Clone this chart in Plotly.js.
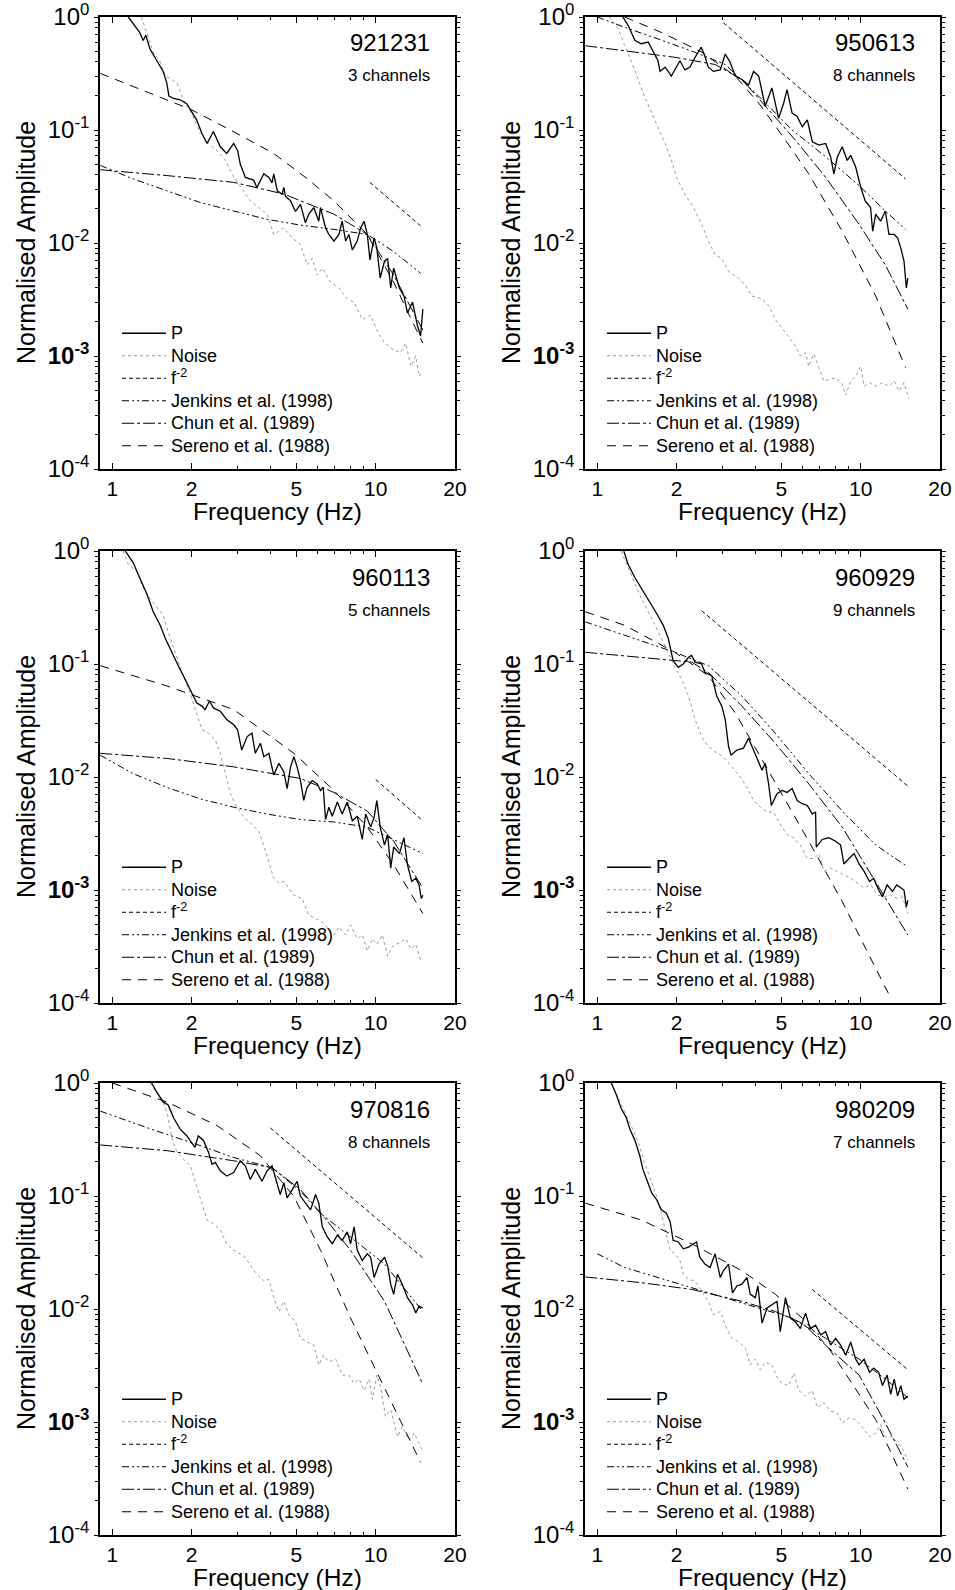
<!DOCTYPE html>
<html><head><meta charset="utf-8">
<script src="https://cdn.plot.ly/plotly-3.0.1.min.js"></script>
<style>body{margin:0;background:#fff}#chart{width:955px;height:1590px}</style>
</head><body><div id="chart"></div>
<script>
// ---------- categories / labels ----------
const events = ['921231','950613','960113','960929','970816','980209'];
const channelText = ['3 channels','8 channels','5 channels','9 channels','8 channels','7 channels'];
const seriesNames = ['P','Noise','f<sup>-2</sup>','Jenkins et al. (1998)','Chun et al. (1989)','Sereno et al. (1988)'];
const xTickVals = [1,2,5,10,20];
const xTickText = ['1','2','5','10','20'];
const xMinorVals = [3,4,6,7,8,9];
const yTickVals = [1,0.1,0.01,0.001,0.0001];
const yTickText = ['10<sup>0</sup>','10<sup>-1</sup>','10<sup>-2</sup>','<b>10<sup>-3</sup></b>','10<sup>-4</sup>'];
const yMinorVals = [2e-4,3e-4,4e-4,5e-4,6e-4,7e-4,8e-4,9e-4,2e-3,3e-3,4e-3,5e-3,6e-3,7e-3,8e-3,9e-3,
  0.02,0.03,0.04,0.05,0.06,0.07,0.08,0.09,0.2,0.3,0.4,0.5,0.6,0.7,0.8,0.9];

// ---------- panel 1 : 921231 ----------
const P1_f = [1.15,1.27,1.31,1.34,1.39,1.47,1.56,1.61,1.64,1.71,1.81,1.92,2.0,2.09,2.19,2.29,2.42,2.57,2.72,2.89,2.99,3.06,3.20,3.44,3.54,3.76,3.93,4.04,4.10,4.23,4.41,4.48,4.54,4.75,4.96,5.18,5.41,5.57,5.82,6.08,6.17,6.45,6.64,6.94,7.25,7.46,7.69,7.91,8.15,8.51,8.77,9.03,9.29,9.51,9.86,10.1,10.4,10.8,11.1,11.4,11.7,12.3,12.8,13.2,13.8,14.4,14.8,15.1];
const P1_a = [1.0,0.73,0.62,0.69,0.52,0.42,0.33,0.26,0.20,0.19,0.185,0.17,0.146,0.123,0.093,0.076,0.097,0.071,0.062,0.076,0.066,0.050,0.038,0.036,0.031,0.041,0.038,0.034,0.041,0.029,0.027,0.031,0.026,0.0236,0.019,0.022,0.0151,0.018,0.0206,0.0156,0.0206,0.0136,0.0119,0.0104,0.0119,0.0156,0.0104,0.0119,0.0087,0.0104,0.0136,0.0156,0.0119,0.0071,0.0111,0.009,0.0049,0.0069,0.0073,0.0040,0.006,0.004,0.0034,0.0024,0.0030,0.00186,0.0015,0.0026];
const N1_f = [1.29,1.35,1.43,1.52,1.59,1.68,1.76,1.86,2.0,2.16,2.32,2.49,2.69,2.84,3.06,3.34,3.59,3.87,4.10,4.48,4.82,5.18,5.49,5.74,6.0,6.27,6.74,7.25,7.80,8.28,8.89,9.57,10.1,10.8,11.6,12.4,13.0,13.6,14.2,14.6,15.1];
const N1_a = [1.0,0.73,0.49,0.40,0.30,0.28,0.26,0.186,0.141,0.093,0.076,0.066,0.054,0.041,0.032,0.0236,0.0206,0.018,0.0119,0.0136,0.0111,0.0097,0.0064,0.0073,0.0052,0.006,0.0045,0.004,0.0032,0.003,0.0021,0.0023,0.0017,0.0013,0.00115,0.00107,0.0013,0.00081,0.001,0.00066,0.00073];
const F1_f = [9.5,14.8];
const F1_a = [0.0344,0.0142];
const J1_f = [0.9,1.2,1.61,2.16,2.89,3.87,5.18,6.94,9.29,11.7,14.8];
const J1_a = [0.0486,0.0369,0.029,0.0228,0.0192,0.0162,0.0144,0.0132,0.0119,0.0084,0.0054];
const C1_f = [0.9,1.61,2.89,4.48,6.94,9.29,11.7,15.1];
const C1_a = [0.0445,0.0395,0.0344,0.0271,0.018,0.0119,0.0052,0.0017];
const S1_f = [0.9,1.4,2.0,2.9,4.1,5.5,6.94,9.29,10.1,11.7,13.4,15.1];
const S1_a = [0.317,0.21,0.151,0.096,0.062,0.037,0.0236,0.0119,0.0084,0.0045,0.0023,0.0013];

// ---------- panel 2 : 950613 ----------
const P2_f = [1.25,1.31,1.39,1.47,1.56,1.63,1.70,1.73,1.81,1.91,2.0,2.06,2.15,2.25,2.35,2.48,2.56,2.64,2.76,2.93,3.06,3.19,3.34,3.54,3.75,3.92,4.10,4.34,4.60,4.88,5.10,5.25,5.49,5.74,6.0,6.27,6.55,6.94,7.36,7.69,7.91,8.15,8.51,8.89,9.16,9.57,10.0,10.4,10.9,11.1,11.4,11.9,12.4,12.8,13.4,13.8,14.2,14.6,14.9,15.1];
const P2_a = [1.0,0.84,0.62,0.58,0.60,0.49,0.41,0.33,0.36,0.30,0.36,0.41,0.34,0.36,0.44,0.54,0.45,0.36,0.33,0.34,0.47,0.40,0.30,0.28,0.25,0.33,0.30,0.162,0.236,0.127,0.173,0.228,0.141,0.132,0.107,0.123,0.0787,0.0734,0.076,0.0577,0.0409,0.0577,0.071,0.0538,0.0597,0.047,0.0311,0.0236,0.0206,0.0127,0.018,0.0156,0.0192,0.0119,0.0119,0.0111,0.009,0.0069,0.004,0.0049];
const N2_f = [1.11,1.20,1.27,1.35,1.43,1.51,1.61,1.70,1.81,1.91,2.0,2.15,2.32,2.49,2.64,2.80,2.97,3.15,3.44,3.65,3.86,4.22,4.47,4.74,5.18,5.65,5.90,6.17,6.35,6.64,6.94,7.25,7.57,8.03,8.51,8.77,9.16,9.57,10.0,10.3,10.8,11.4,12.1,12.8,13.4,14.0,14.6,15.2];
const N2_a = [1.0,0.79,0.56,0.40,0.28,0.199,0.141,0.107,0.076,0.054,0.038,0.027,0.0206,0.0146,0.0104,0.0079,0.0073,0.0056,0.0049,0.0042,0.0034,0.0032,0.0028,0.0021,0.0016,0.00123,0.001,0.00107,0.00081,0.00104,0.00079,0.0006,0.00062,0.00064,0.00056,0.00045,0.0006,0.00066,0.00081,0.00054,0.00058,0.00054,0.00058,0.00054,0.0006,0.00049,0.00058,0.00042];
const F2_f = [3.01,14.8];
const F2_a = [0.89,0.0369];
const J2_f = [1.0,1.27,1.70,2.28,3.06,4.10,5.49,7.36,9.86,12.4,14.8];
const J2_a = [1.0,0.81,0.64,0.50,0.38,0.199,0.1,0.058,0.0322,0.0192,0.0132];
const C2_f = [0.9,1.27,1.97,2.80,3.54,4.47,5.65,7.36,9.86,12.4,15.1];
const C2_a = [0.557,0.50,0.44,0.38,0.28,0.151,0.0813,0.0382,0.0146,0.0064,0.0026];
const S2_f = [1.27,1.75,2.49,3.34,4.10,5.18,6.35,8.51,11.4,14.8];
const S2_a = [1.0,0.73,0.49,0.30,0.173,0.0813,0.0409,0.0127,0.0034,0.00079];

// ---------- panel 3 : 960113 ----------
const P3_f = [1.12,1.20,1.27,1.35,1.43,1.52,1.59,1.68,1.78,1.89,2.0,2.09,2.19,2.25,2.34,2.42,2.57,2.72,2.89,2.99,3.10,3.25,3.39,3.49,3.65,3.76,3.93,4.10,4.29,4.48,4.61,4.75,4.89,5.03,5.18,5.33,5.49,5.74,6.0,6.17,6.32,6.45,6.64,6.84,7.15,7.46,7.80,8.15,8.51,8.89,9.16,9.57,9.86,10.1,10.4,10.8,11.1,11.4,11.7,12.3,12.8,13.2,13.7,14.2,14.6,14.9,15.1];
const P3_a = [1.0,0.79,0.58,0.42,0.29,0.22,0.168,0.127,0.0966,0.0734,0.0557,0.0454,0.0424,0.0395,0.047,0.0409,0.0382,0.0322,0.029,0.0262,0.0173,0.0228,0.0244,0.0162,0.0199,0.0151,0.0162,0.0104,0.0132,0.0111,0.0079,0.0123,0.0151,0.0123,0.0093,0.0062,0.0081,0.0093,0.0087,0.0076,0.0081,0.0042,0.0054,0.0045,0.006,0.0047,0.006,0.0041,0.0045,0.0028,0.0047,0.0036,0.0044,0.0062,0.0036,0.0025,0.0031,0.00156,0.0024,0.0021,0.0029,0.00167,0.00119,0.00127,0.00111,0.00084,0.0009];
const N3_f = [1.10,1.15,1.24,1.31,1.39,1.47,1.56,1.63,1.73,1.84,1.95,2.06,2.19,2.32,2.46,2.57,2.69,2.81,2.97,3.16,3.39,3.60,3.76,3.93,4.10,4.29,4.48,4.68,4.89,5.26,5.57,5.91,6.27,6.64,6.94,7.25,7.69,8.03,8.51,8.89,9.29,9.71,10.1,10.6,11.1,11.6,12.3,13.0,13.6,14.2,14.8,15.1];
const N3_a = [1.0,0.76,0.66,0.47,0.38,0.32,0.27,0.192,0.127,0.0842,0.0597,0.0395,0.0262,0.0244,0.0213,0.0162,0.0107,0.0071,0.0054,0.0044,0.0038,0.0033,0.0025,0.0018,0.00127,0.00115,0.00119,0.00104,0.0009,0.00084,0.0006,0.00056,0.00052,0.00045,0.0004,0.00047,0.0004,0.00049,0.00037,0.0004,0.00029,0.00037,0.00033,0.0004,0.00026,0.00032,0.00034,0.00037,0.0003,0.00033,0.00024,0.00024];
const F3_f = [10.0,15.1];
const F3_a = [0.0095,0.0041];
const J3_f = [0.9,1.20,1.61,2.16,2.89,3.87,5.18,6.94,9.29,11.7,15.1];
const J3_a = [0.0156,0.0107,0.0081,0.0064,0.0054,0.0047,0.0042,0.004,0.0036,0.0028,0.0021];
const C3_f = [0.9,1.61,2.89,5.18,6.94,9.29,11.7,15.1];
const C3_a = [0.0162,0.0146,0.0123,0.0097,0.0073,0.005,0.0027,0.00104];
const S3_f = [0.9,1.61,2.89,4.89,6.94,9.29,11.7,15.1];
const S3_a = [0.0966,0.064,0.0395,0.0162,0.0076,0.0036,0.00167,0.00062];

// ---------- panel 4 : 960929 ----------
const P4_f = [1.26,1.31,1.39,1.47,1.56,1.68,1.78,1.86,1.94,2.03,2.12,2.22,2.28,2.35,2.49,2.56,2.72,2.84,2.97,3.06,3.15,3.22,3.39,3.59,3.75,3.92,4.10,4.22,4.34,4.47,4.58,4.67,4.81,5.03,5.25,5.49,5.74,6.0,6.27,6.55,6.74,6.78,7.14,7.57,8.03,8.39,8.63,9.03,9.44,9.86,10.3,10.8,11.2,11.7,12.1,12.6,13.2,13.7,14.2,14.6,14.9,15.1];
const P4_a = [1.0,0.76,0.58,0.47,0.38,0.28,0.22,0.168,0.107,0.0933,0.1,0.115,0.119,0.104,0.1,0.0842,0.0787,0.052,0.0424,0.0322,0.0186,0.0156,0.0173,0.018,0.022,0.0173,0.0132,0.0115,0.0132,0.0087,0.0056,0.0062,0.0071,0.0076,0.0073,0.0079,0.0062,0.0058,0.0056,0.0047,0.0049,0.0024,0.0028,0.0029,0.0027,0.0025,0.0017,0.0019,0.0021,0.0017,0.00146,0.00119,0.00127,0.001,0.00087,0.00111,0.00097,0.00111,0.00104,0.001,0.00071,0.00081];
const N4_f = [1.23,1.31,1.39,1.47,1.56,1.66,1.75,1.86,1.97,2.09,2.22,2.35,2.49,2.64,2.80,3.01,3.24,3.49,3.70,3.92,4.16,4.41,4.67,4.95,5.25,5.57,5.90,6.27,6.64,6.94,7.25,7.69,8.15,8.63,9.16,9.71,10.3,10.9,11.6,12.3,13.0,13.8,14.4,15.1];
const N4_a = [1.0,0.71,0.50,0.38,0.29,0.22,0.168,0.127,0.0933,0.0734,0.052,0.0322,0.0228,0.0186,0.0167,0.0151,0.0123,0.01,0.0081,0.0062,0.0054,0.0049,0.0049,0.0038,0.0031,0.0029,0.0025,0.0019,0.0019,0.0021,0.00146,0.00156,0.00146,0.00136,0.00127,0.00115,0.00104,0.00111,0.0009,0.00087,0.0009,0.00084,0.00087,0.00062];
const F4_f = [2.49,15.1];
const F4_a = [0.296,0.0083];
const J4_f = [0.9,1.27,1.97,2.64,3.54,4.74,6.35,8.51,11.4,15.1];
const J4_a = [0.236,0.179,0.127,0.0966,0.052,0.0244,0.0107,0.005,0.0025,0.0016];
const C4_f = [0.9,1.47,2.28,2.64,3.54,4.74,6.35,8.51,11.4,15.1];
const C4_a = [0.127,0.115,0.104,0.0842,0.0424,0.0199,0.0087,0.0036,0.00119,0.0004];
const S4_f = [0.9,1.27,1.97,2.64,3.34,4.10,5.18,6.35,8.51,10.8,12.8];
const S4_a = [0.29,0.22,0.127,0.0787,0.0369,0.0162,0.0062,0.0027,0.00079,0.00026,0.000119];

// ---------- panel 5 : 970816 ----------
const P5_f = [1.41,1.47,1.56,1.63,1.71,1.81,1.92,2.06,2.12,2.22,2.32,2.39,2.46,2.57,2.72,2.89,3.06,3.20,3.34,3.49,3.70,3.87,4.04,4.23,4.34,4.48,4.61,4.82,5.03,5.18,5.41,5.66,5.91,6.08,6.27,6.55,6.84,7.15,7.46,7.80,8.03,8.28,8.51,8.89,9.29,9.57,9.86,10.3,10.8,11.1,11.4,11.7,12.1,12.6,13.2,13.8,14.2,14.6,15.1];
const P5_a = [1.0,0.84,0.68,0.64,0.49,0.39,0.34,0.27,0.34,0.31,0.243,0.191,0.198,0.167,0.150,0.161,0.205,0.185,0.140,0.172,0.135,0.167,0.185,0.126,0.103,0.131,0.096,0.114,0.135,0.0993,0.0865,0.0754,0.103,0.0865,0.0534,0.0434,0.0378,0.045,0.0405,0.0482,0.0378,0.0534,0.033,0.0268,0.0308,0.0287,0.019,0.025,0.0287,0.0242,0.0166,0.0135,0.0203,0.0166,0.0126,0.0109,0.0092,0.0106,0.0102];
const N5_f = [1.39,1.47,1.56,1.63,1.68,1.76,1.86,1.98,2.09,2.19,2.29,2.42,2.57,2.72,2.89,3.15,3.39,3.54,3.76,3.93,4.10,4.29,4.48,4.68,4.96,5.18,5.49,5.82,6.08,6.35,6.64,7.05,7.46,7.91,8.28,8.65,9.03,9.44,9.71,10.1,10.4,10.9,11.4,12.1,12.6,13.4,14.0,14.6,15.1];
const N5_a = [1.0,0.84,0.68,0.50,0.33,0.243,0.212,0.185,0.122,0.0865,0.0613,0.0572,0.0499,0.0378,0.033,0.0297,0.0233,0.0203,0.0177,0.0183,0.0126,0.0095,0.0117,0.0089,0.0077,0.0055,0.0051,0.0048,0.0032,0.0039,0.0034,0.0036,0.0026,0.0026,0.0022,0.0024,0.0019,0.0024,0.00159,0.0026,0.0021,0.00112,0.00129,0.00074,0.00091,0.00069,0.0008,0.00065,0.00055];
const F5_f = [3.98,15.1];
const F5_a = [0.40,0.0283];
const J5_f = [0.9,1.39,2.16,2.89,4.04,5.18,6.17,8.03,10.8,15.1];
const J5_a = [0.564,0.394,0.279,0.219,0.178,0.110,0.0703,0.0434,0.025,0.0095];
const C5_f = [0.9,1.61,2.89,4.04,5.18,6.35,8.03,10.8,15.1];
const C5_a = [0.283,0.252,0.205,0.178,0.114,0.0657,0.033,0.0117,0.00216];
const S5_f = [1.0,1.61,2.50,3.65,4.89,6.18,8.03,10.1,12.4,14.8];
const S5_a = [1.0,0.68,0.42,0.227,0.0993,0.033,0.0083,0.00275,0.00105,0.00044];

// ---------- panel 6 : 980209 ----------
const P6_f = [1.13,1.18,1.23,1.29,1.33,1.39,1.45,1.49,1.54,1.61,1.68,1.75,1.83,1.89,1.94,2.03,2.12,2.22,2.32,2.38,2.45,2.56,2.68,2.80,2.93,3.01,3.15,3.26,3.39,3.54,3.70,3.81,3.98,4.07,4.22,4.41,4.60,4.81,4.95,5.18,5.41,5.65,5.90,6.17,6.44,6.74,7.05,7.36,7.69,8.03,8.39,8.77,9.16,9.57,9.86,10.3,10.8,11.2,11.7,12.1,12.6,13.0,13.4,13.8,14.2,14.6,15.1];
const P6_a = [1.0,0.79,0.60,0.49,0.39,0.31,0.227,0.172,0.140,0.106,0.0927,0.0754,0.0703,0.0592,0.0405,0.0392,0.0341,0.0353,0.0378,0.0392,0.0287,0.025,0.0233,0.0308,0.019,0.0218,0.025,0.0139,0.016,0.0166,0.019,0.0135,0.0126,0.016,0.0075,0.0102,0.0109,0.0117,0.0063,0.0126,0.0083,0.0077,0.0067,0.0092,0.0067,0.0072,0.0059,0.0063,0.0048,0.0055,0.0048,0.0039,0.0051,0.0036,0.0032,0.0036,0.00275,0.0030,0.00275,0.0021,0.0026,0.00176,0.0024,0.0017,0.0021,0.00159,0.0017];
const N6_f = [1.13,1.20,1.27,1.35,1.43,1.51,1.61,1.68,1.75,1.83,1.89,1.97,2.06,2.12,2.22,2.35,2.49,2.64,2.76,2.93,3.06,3.24,3.44,3.65,3.81,3.98,4.16,4.34,4.60,4.81,5.03,5.33,5.57,5.82,6.17,6.55,6.84,7.25,7.69,8.15,8.51,9.03,9.57,10.1,10.8,11.4,11.9,12.4,13.2,13.8,14.4,15.1];
const N6_a = [1.0,0.73,0.56,0.41,0.30,0.198,0.131,0.0993,0.0703,0.0466,0.033,0.0308,0.0268,0.0203,0.0183,0.0177,0.0144,0.0117,0.0089,0.0095,0.0072,0.0055,0.0051,0.0045,0.0032,0.0036,0.0029,0.0034,0.0032,0.0025,0.0022,0.0021,0.0027,0.0019,0.0017,0.0019,0.00134,0.00148,0.00125,0.0012,0.00098,0.00109,0.00105,0.00091,0.00074,0.0008,0.00095,0.00074,0.00074,0.00065,0.00058,0.00046];
const F6_f = [6.55,15.1];
const F6_a = [0.0149,0.0029];
const J6_f = [1.0,1.27,1.70,2.28,3.06,4.10,5.49,7.36,9.86,12.4,15.1];
const J6_a = [0.0308,0.0233,0.019,0.0155,0.0126,0.0102,0.0083,0.0055,0.0036,0.0024,0.00164];
const C6_f = [0.9,1.47,2.28,3.54,4.74,6.0,7.57,9.86,12.4,15.1];
const C6_a = [0.0192,0.0171,0.0149,0.0117,0.0095,0.0075,0.0045,0.0026,0.00098,0.0004];
const S6_f = [0.9,1.47,2.28,3.54,4.74,6.0,7.57,9.29,11.4,15.1];
const S6_a = [0.0865,0.0613,0.0378,0.0218,0.0135,0.0083,0.0045,0.0022,0.00105,0.000255];

// ---------- assemble ----------
const panelData = [
  {P:[P1_f,P1_a],N:[N1_f,N1_a],F:[F1_f,F1_a],J:[J1_f,J1_a],C:[C1_f,C1_a],S:[S1_f,S1_a]},
  {P:[P2_f,P2_a],N:[N2_f,N2_a],F:[F2_f,F2_a],J:[J2_f,J2_a],C:[C2_f,C2_a],S:[S2_f,S2_a]},
  {P:[P3_f,P3_a],N:[N3_f,N3_a],F:[F3_f,F3_a],J:[J3_f,J3_a],C:[C3_f,C3_a],S:[S3_f,S3_a]},
  {P:[P4_f,P4_a],N:[N4_f,N4_a],F:[F4_f,F4_a],J:[J4_f,J4_a],C:[C4_f,C4_a],S:[S4_f,S4_a]},
  {P:[P5_f,P5_a],N:[N5_f,N5_a],F:[F5_f,F5_a],J:[J5_f,J5_a],C:[C5_f,C5_a],S:[S5_f,S5_a]},
  {P:[P6_f,P6_a],N:[N6_f,N6_a],F:[F6_f,F6_a],J:[J6_f,J6_a],C:[C6_f,C6_a],S:[S6_f,S6_a]}
];

const FONT = 'Liberation Sans, Arial, Helvetica, sans-serif';
const FW = 955, FH = 1590;
const colLeft = [100, 585], rowTop = [17, 551, 1083], PW = 355, PH = 452;
const px = v => v / FW, py = v => 1 - v / FH;

// style per series (order: drawn bottom -> top)
const styles = {
  N: {name: seriesNames[1], rank: 2, line: {color: '#9a9a9a', width: 1, dash: 'dot'}},
  F: {name: seriesNames[2], rank: 3, line: {color: '#000', width: 1, dash: '4px,3px'}},
  J: {name: seriesNames[3], rank: 4, line: {color: '#000', width: 1, dash: '7px,3px,2px,3px,2px,3px'}},
  C: {name: seriesNames[4], rank: 5, line: {color: '#000', width: 1, dash: '12px,3px,3px,3px'}},
  S: {name: seriesNames[5], rank: 6, line: {color: '#000', width: 1, dash: '9px,7px'}},
  P: {name: seriesNames[0], rank: 1, line: {color: '#000', width: 1.3}}
};
const drawOrder = ['N','F','J','C','S','P'];

const traces = [];
const layout = {
  width: FW, height: FH, margin: {l:0, r:0, t:0, b:0},
  paper_bgcolor: '#fff', plot_bgcolor: '#fff',
  font: {family: FONT, color: '#000'},
  hovermode: false, showlegend: true,
  annotations: []
};

events.forEach((ev, i) => {
  const col = i % 2, row = Math.floor(i / 2);
  const L = colLeft[col], T = rowTop[row];
  const k = i === 0 ? '' : String(i + 1);
  const legKey = 'legend' + k;
  drawOrder.forEach(key => {
    const st = styles[key];
    traces.push({
      type: 'scatter', mode: 'lines',
      x: panelData[i][key][0], y: panelData[i][key][1],
      xaxis: 'x' + k, yaxis: 'y' + k,
      name: '<span style="font-size:18px">' + st.name + '</span>',
      legend: legKey, legendrank: st.rank,
      line: st.line, showlegend: true
    });
  });
  layout['xaxis' + k] = {
    type: 'log', range: [Math.log10(0.898), Math.log10(20)],
    domain: [px(L), px(L + PW)], anchor: 'y' + k,
    tickmode: 'array', tickvals: xTickVals, ticktext: xTickText,
    ticks: 'inside', ticklen: 6, tickwidth: 1, tickcolor: '#000',
    minor: {tickmode: 'array', tickvals: xMinorVals, ticks: 'inside', ticklen: 3, tickcolor: '#000', showgrid: false},
    showline: true, linecolor: '#000', linewidth: 1.8, mirror: 'allticks',
    showgrid: false, zeroline: false,
    tickfont: {size: 21, family: FONT, color: '#000'}, fixedrange: true
  };
  layout['yaxis' + k] = {
    type: 'log', range: [-4, 0],
    domain: [py(T + PH), py(T)], anchor: 'x' + k,
    tickmode: 'array', tickvals: yTickVals, ticktext: yTickText,
    ticks: 'outside', ticklen: 4, tickwidth: 1, tickcolor: '#000',
    minor: {tickmode: 'array', tickvals: yMinorVals, ticks: 'outside', ticklen: 3, tickcolor: '#000', showgrid: false},
    showline: true, linecolor: '#000', linewidth: 1.8, mirror: 'allticks',
    showgrid: false, zeroline: false,
    tickfont: {size: 24, family: FONT, color: '#000'}, fixedrange: true
  };
  layout[legKey] = {
    x: px(L + 17), xanchor: 'left', y: py(T + 300), yanchor: 'top',
    bgcolor: 'rgba(0,0,0,0)', borderwidth: 0,
    font: {size: 15, family: FONT, color: '#000'},
    itemwidth: 44, tracegroupgap: 0, traceorder: 'normal'
  };
  layout.annotations.push(
    {xref: 'paper', yref: 'paper', x: px(L + PW - 23), y: py(T + 26), xanchor: 'right', yanchor: 'middle',
     text: ev, showarrow: false, font: {size: 24, family: FONT, color: '#000'}},
    {xref: 'paper', yref: 'paper', x: px(L + PW - 23), y: py(T + 59), xanchor: 'right', yanchor: 'middle',
     text: channelText[i], showarrow: false, font: {size: 17, family: FONT, color: '#000'}},
    {xref: 'paper', yref: 'paper', x: px(L + PW / 2), y: py(T + PH + 42), xanchor: 'center', yanchor: 'middle',
     text: 'Frequency (Hz)', showarrow: false, font: {size: 24.5, family: FONT, color: '#000'}},
    {xref: 'paper', yref: 'paper', x: px(L - 74), y: py(T + PH / 2), xanchor: 'center', yanchor: 'middle',
     text: 'Normalised Amplitude', textangle: -90, showarrow: false, font: {size: 25, family: FONT, color: '#000'}}
  );
});

Plotly.newPlot('chart', traces, layout, {staticPlot: true, displayModeBar: false});
</script></body></html>
